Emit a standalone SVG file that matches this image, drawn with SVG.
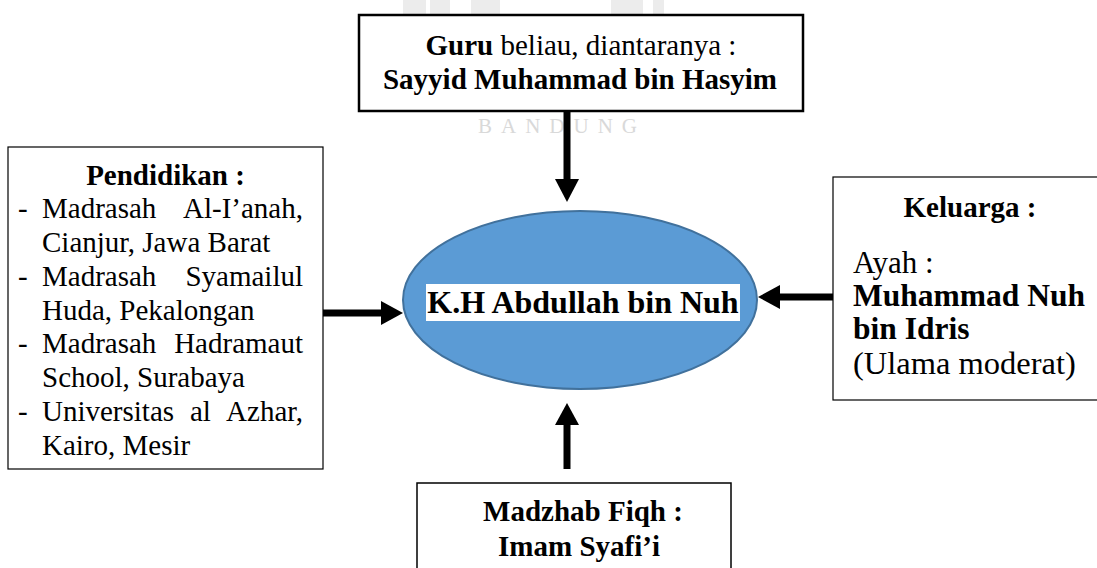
<svg xmlns="http://www.w3.org/2000/svg" width="1097" height="568" viewBox="0 0 1097 568">
<style>
text{font-family:"Liberation Serif","Times New Roman",serif;fill:#000}
.b{font-weight:bold}
.t29{font-size:29px}
.box{fill:#fff;stroke:#000}
.wm{fill:#d9d9d9;font-size:21px;letter-spacing:9px}
.wms{fill:#ececec}
.ln{stroke:#000;stroke-width:7;fill:none}
.hd{fill:#000}
</style>
<rect width="1097" height="568" fill="#fff"/>
<g id="watermark">
<path class="wms" d="M403,0 H426 V30 H403 Z M430,0 H450 V30 H430 Z M471,0 H500 V30 H471 Z M611,0 H643 V30 H611 Z M653,0 H664 V30 H653 Z"/>
<text class="wm" x="562" y="133" text-anchor="middle">BANDUNG</text>
</g>
<g id="guru">
<rect class="box" x="359" y="15" width="444" height="96" stroke-width="2.5"/>
<text class="t29" x="581" y="55" text-anchor="middle"><tspan class="b">Guru</tspan> beliau, diantaranya :</text>
<text class="t29 b" x="580" y="89" text-anchor="middle">Sayyid Muhammad bin Hasyim</text>
</g>
<g id="pendidikan">
<rect class="box" x="8" y="147" width="315" height="322" stroke-width="1.2"/>
<text class="t29 b" x="165.5" y="185" text-anchor="middle">Pendidikan :</text>
<text class="t29" x="18" y="218">-</text><text class="t29" x="42" y="218">Madrasah</text><text class="t29" x="303" y="218" text-anchor="end">Al-I’anah,</text>
<text class="t29" x="42" y="252">Cianjur, Jawa Barat</text>
<text class="t29" x="18" y="286">-</text><text class="t29" x="42" y="286">Madrasah</text><text class="t29" x="303" y="286" text-anchor="end">Syamailul</text>
<text class="t29" x="42" y="320">Huda, Pekalongan</text>
<text class="t29" x="18" y="353">-</text><text class="t29" x="42" y="353">Madrasah</text><text class="t29" x="303" y="353" text-anchor="end">Hadramaut</text>
<text class="t29" x="42" y="387">School, Surabaya</text>
<text class="t29" x="18" y="421">-</text><text class="t29" x="42" y="421">Universitas</text><text class="t29" x="190" y="421">al</text><text class="t29" x="303" y="421" text-anchor="end">Azhar,</text>
<text class="t29" x="42" y="455">Kairo, Mesir</text>
</g>
<g id="keluarga">
<rect class="box" x="833" y="177" width="280" height="223" stroke-width="1.2"/>
<text class="t29 b" x="970" y="217" text-anchor="middle">Keluarga :</text>
<text x="853" y="273" font-size="31">Ayah :</text>
<text class="b" x="853" y="306" font-size="31.5">Muhammad Nuh</text>
<text class="b" x="853" y="339" font-size="31.5">bin Idris</text>
<text x="853" y="374" font-size="32.5">(Ulama moderat)</text>
</g>
<g id="madzhab">
<rect class="box" x="417" y="483" width="314" height="100" stroke-width="1.5"/>
<text class="t29 b" x="583" y="521" text-anchor="middle">Madzhab Fiqh :</text>
<text class="t29 b" x="579" y="556" text-anchor="middle">Imam Syafi’i</text>
</g>
<g id="center">
<ellipse cx="580" cy="300" rx="177" ry="89" fill="#5B9BD5" stroke="#41719C" stroke-width="2"/>
<rect x="426" y="284" width="314" height="37" fill="#fff"/>
<text class="b" x="583" y="313" font-size="32" text-anchor="middle">K.H Abdullah bin Nuh</text>
</g>
<g id="connectors">
<line class="ln" x1="567" y1="111" x2="567" y2="181"/>
<polygon class="hd" points="555,179 579,179 567,202"/>
<line class="ln" x1="567" y1="469" x2="567" y2="423"/>
<polygon class="hd" points="555,425 579,425 567,403"/>
<line class="ln" x1="323" y1="313" x2="383" y2="313"/>
<polygon class="hd" points="381,301 381,325 403,313"/>
<line class="ln" x1="833" y1="297" x2="778" y2="297"/>
<polygon class="hd" points="780,285 780,309 758,297"/>
</g>
</svg>
